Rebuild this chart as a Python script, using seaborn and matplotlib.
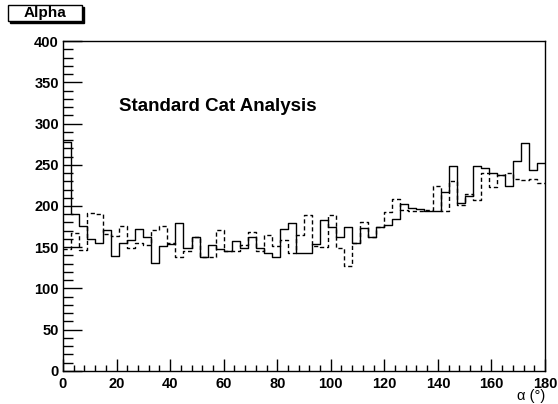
import matplotlib
matplotlib.use("Agg")
import matplotlib.pyplot as plt
import seaborn as sns
import numpy as np
import pandas as pd
from matplotlib.patches import Rectangle
from matplotlib.ticker import MultipleLocator

# 60 bins of 3 degrees, alpha from 0 to 180
bin_edges = np.arange(0, 183, 3)
bin_centers = bin_edges[:-1] + 1.5

solid_counts = [
    278, 190, 176, 160, 155, 171, 139, 155, 159, 172,
    162, 131, 151, 154, 179, 149, 163, 138, 153, 148,
    145, 157, 149, 162, 149, 143, 138, 172, 179, 143,
    143, 154, 183, 175, 163, 175, 155, 173, 162, 174,
    177, 184, 203, 198, 196, 194, 194, 217, 248, 204,
    212, 248, 246, 240, 238, 224, 255, 276, 244, 252,
]
dashed_counts = [
    148, 167, 147, 192, 190, 166, 164, 176, 149, 155,
    153, 171, 176, 155, 138, 146, 162, 138, 138, 171,
    145, 145, 153, 169, 145, 165, 151, 159, 143, 165,
    189, 151, 150, 189, 149, 127, 155, 180, 162, 174,
    193, 208, 195, 194, 194, 195, 224, 194, 230, 201,
    215, 207, 240, 223, 237, 240, 233, 232, 233, 228,
]

df = pd.DataFrame({"alpha": bin_centers, "solid": solid_counts, "dashed": dashed_counts})

sns.set_style("white")
plt.rcParams["font.family"] = ["Liberation Sans", "DejaVu Sans"]
plt.rcParams["text.color"] = "black"
plt.rcParams["xtick.color"] = "black"
plt.rcParams["ytick.color"] = "black"

fig = plt.figure(figsize=(5.58, 4.04), dpi=100)
ax = fig.add_axes([0.1129, 0.0817, 0.8638, 0.8168])

sns.histplot(data=df, x="alpha", weights="solid", binwidth=3, binrange=(0, 180),
             element="step", fill=False, color="black", linewidth=1.0, ax=ax)
sns.histplot(data=df, x="alpha", weights="dashed", binwidth=3, binrange=(0, 180),
             element="step", fill=False, color="black", linewidth=1.0,
             linestyle=(0, (3, 2)), ax=ax)

ax.set_xlim(0, 180)
ax.set_ylim(0, 400)
ax.set_xlabel("")
ax.set_ylabel("")

ax.xaxis.set_major_locator(MultipleLocator(20))
ax.xaxis.set_minor_locator(MultipleLocator(4))
ax.yaxis.set_major_locator(MultipleLocator(50))
ax.yaxis.set_minor_locator(MultipleLocator(10))
ax.tick_params(axis="both", which="both", direction="in", bottom=True, left=True,
               top=False, right=False, color="black", labelcolor="black")
ax.tick_params(axis="x", which="major", length=9, width=1, labelsize=10.5, pad=4)
ax.tick_params(axis="x", which="minor", length=4.5, width=1)
ax.tick_params(axis="y", which="major", length=14, width=1, labelsize=10.5, pad=3)
ax.tick_params(axis="y", which="minor", length=7.5, width=1)
for lab in ax.get_xticklabels() + ax.get_yticklabels():
    lab.set_fontweight("bold")

for sp in ax.spines.values():
    sp.set_color("black")
    sp.set_linewidth(1.0)

ax.text(21, 321, "Standard Cat Analysis", fontsize=13.5, fontweight="bold",
        ha="left", va="center", color="black")

fig.text(545 / 558, 1 - 396 / 404, "\u03b1 (\u00b0)", fontsize=10.5,
         ha="right", va="center", color="black")

# ROOT-style title box with shadow
fig.patches.append(Rectangle((10 / 558, 1 - 23 / 404), 74 / 558, 16 / 404,
                             transform=fig.transFigure, facecolor="black",
                             edgecolor="black", zorder=1))
fig.patches.append(Rectangle((8 / 558, 1 - 21 / 404), 74 / 558, 16 / 404,
                             transform=fig.transFigure, facecolor="white",
                             edgecolor="black", linewidth=1, zorder=2))
fig.text(45 / 558, 1 - 13 / 404, "Alpha", fontsize=11, fontweight="bold",
         ha="center", va="center", color="black", zorder=3)

fig.savefig("out.png", dpi=100)
